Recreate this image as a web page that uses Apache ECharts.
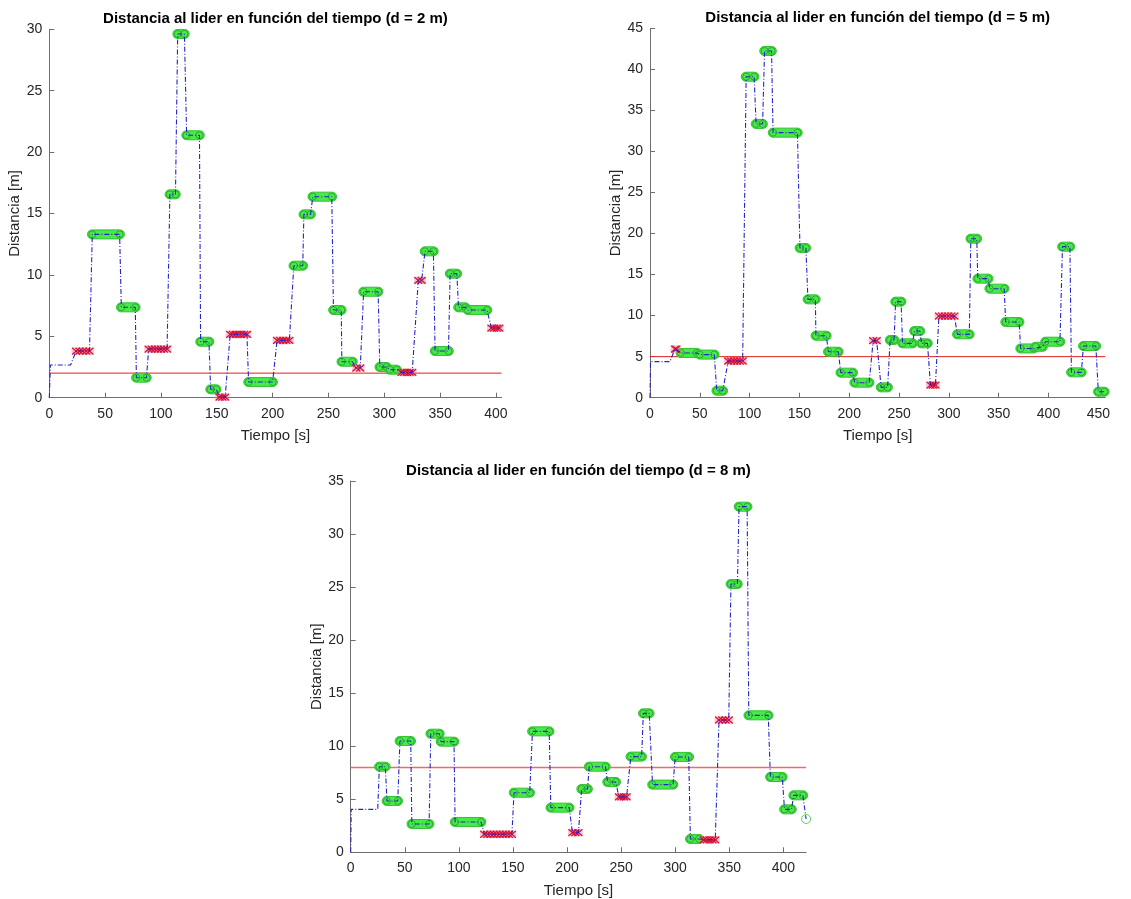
<!DOCTYPE html>
<html><head><meta charset="utf-8">
<script src="https://cdn.jsdelivr.net/npm/echarts@6/dist/echarts.min.js"></script>
<style>html,body{margin:0;padding:0;background:#fff}#c{width:1131px;height:899px}</style>
</head><body><div id="c"></div>
<script>
// ---------- Chart 1 (d = 2 m) ----------
const c1Title = 'Distancia al lider en función del tiempo (d = 2 m)';
const c1Ref = 2;
const c1XMax = 405;
const c1YMax = 30;
const c1XTicks = [0, 50, 100, 150, 200, 250, 300, 350, 400];
const c1Start = [0, 1, 24, 38.5, 64.5, 78, 89, 108, 115, 123, 135.5, 144.5, 152.5, 162, 178.5, 204, 219, 228, 236, 254.5, 262, 275, 281.5, 296, 305, 315.5, 330.5, 336.5, 345.5, 359, 366.5, 375, 396];
const c1End   = [0, 19, 36, 63, 77, 87, 105.5, 113, 121, 134.5, 143, 149.5, 157.5, 177, 200, 215, 227, 234, 253, 261.5, 271.5, 278.5, 294.5, 302, 311, 325, 333.5, 344, 357.5, 365, 372.5, 392, 403];
const c1Value = [0, 2.66, 3.80, 13.30, 7.36, 1.63, 3.96, 16.56, 29.62, 21.37, 4.56, 0.68, 0.05, 5.16, 1.28, 4.67, 10.75, 14.93, 16.37, 7.14, 2.93, 2.42, 8.63, 2.50, 2.28, 2.06, 9.56, 11.92, 3.80, 10.10, 7.36, 7.14, 5.67];
const c1Kind  = ['N','N','R','G','G','G','R','G','G','G','G','G','R','R','G','R','G','G','G','G','G','R','G','G','G','R','R','G','G','G','G','G','R'];

// ---------- Chart 2 (d = 5 m) ----------
const c2Title = 'Distancia al lider en función del tiempo (d = 5 m)';
const c2Ref = 5;
const c2XMax = 457;
const c2YMax = 45;
const c2XTicks = [0, 50, 100, 150, 200, 250, 300, 350, 400, 450];
const c2Start = [0, 0.5, 25, 31, 50, 67, 78.5, 96.5, 106.5, 115, 123.5, 150.5, 158.5, 166.5, 179, 191.5, 205.5, 224, 232, 241, 246.5, 253.5, 265.5, 272.5, 281.5, 290, 308.5, 322, 329, 341, 357, 372, 387, 397, 414, 423, 435, 450];
const c2End   = [0, 20, 26.5, 47, 64.5, 73, 93, 104.5, 113, 122, 148, 156.5, 166, 177, 189, 203.5, 220, 227.5, 238.5, 245, 252, 263.5, 271, 278.5, 286.5, 305.5, 320.5, 328, 339.5, 355.5, 370.5, 385, 394, 411.5, 421.5, 433, 447.5, 456];
const c2Value = [0, 4.39, 5.93, 5.45, 5.25, 0.85, 4.47, 39.1, 33.35, 42.24, 32.29, 18.24, 11.98, 7.55, 5.6, 3.05, 1.83, 6.95, 1.26, 7.03, 11.70, 6.62, 8.12, 6.62, 1.54, 9.95, 7.72, 19.37, 14.5, 13.28, 9.22, 6.0, 6.2, 6.82, 18.4, 3.09, 6.3, 0.73];
const c2Kind  = ['N','N','R','G','G','G','R','G','G','G','G','G','G','G','G','G','G','R','G','G','G','G','G','G','R','R','G','G','G','G','G','G','G','G','G','G','G','G'];

// ---------- Chart 3 (d = 8 m) ----------
const c3Title = 'Distancia al lider en función del tiempo (d = 8 m)';
const c3Ref = 8;
const c3XMax = 421;
const c3YMax = 35;
const c3XTicks = [0, 50, 100, 150, 200, 250, 300, 350, 400];
const c3Start = [0, 0.5, 26.5, 33.5, 45.5, 56.5, 74, 83.5, 96.5, 123.5, 151, 168, 185, 205, 213.5, 220.5, 237.5, 248, 259, 270.5, 279, 300, 314, 326.5, 340.5, 351.5, 359, 368, 388, 401, 409.5, 421];
const c3End   = [0, 25, 32, 43.5, 55.5, 72.5, 82, 95.5, 120.5, 149, 165.5, 183.5, 202, 210.5, 219, 235.5, 245, 255, 269, 276, 298, 312.5, 322, 337, 349.5, 357.5, 366.5, 386, 399, 407.5, 418, 421];
const c3Value = [0, 4.05, 8.07, 4.84, 10.49, 2.67, 11.18, 10.43, 2.86, 1.70, 5.62, 11.40, 4.21, 1.85, 5.97, 8.07, 6.63, 5.22, 9.02, 13.10, 6.38, 8.99, 1.26, 1.18, 12.47, 25.29, 32.58, 12.91, 7.10, 4.05, 5.37, 3.14];
const c3Kind  = ['N','N','G','G','G','G','G','G','G','R','G','G','G','R','G','G','G','R','G','G','G','G','G','R','R','G','G','G','G','G','G','O'];

// ---------- helpers ----------
const FONT = 'Liberation Sans, Arial, Helvetica, sans-serif';
const TXT = '#262626';
const AX = '#6e6e6e';

function pill(params, api) {
  const a = api.coord([api.value(0), api.value(2)]);
  const b = api.coord([api.value(1), api.value(2)]);
  const R = 4.8, H = 9;
  return { type: 'group', children: [
    { type: 'rect', shape: { x: a[0] - R, y: a[1] - H / 2, width: b[0] - a[0] + 2 * R, height: H, r: H / 2 },
      style: { fill: '#48ea48', stroke: '#34c034', lineWidth: 1 } },
    { type: 'circle', shape: { cx: a[0], cy: a[1], r: 3.5 }, style: { fill: null, stroke: '#22a022', lineWidth: 0.8 } },
    { type: 'circle', shape: { cx: b[0], cy: b[1], r: 3.5 }, style: { fill: null, stroke: '#22a022', lineWidth: 0.8 } }
  ]};
}
function crosses(params, api) {
  const a = api.coord([api.value(0), api.value(2)]);
  const b = api.coord([api.value(1), api.value(2)]);
  const ch = [{ type: 'rect', shape: { x: a[0] - 4.5, y: a[1] - 3.8, width: b[0] - a[0] + 9, height: 7.6, r: 3 },
    style: { fill: 'rgba(240,120,140,0.4)' } }];
  const n = Math.max(1, Math.round((b[0] - a[0]) / 3));
  for (let i = 0; i <= n; i++) {
    const x = a[0] + (b[0] - a[0]) * i / n, y = a[1];
    ch.push({ type: 'line', shape: { x1: x - 4, y1: y - 3.4, x2: x + 4, y2: y + 3.4 }, style: { stroke: '#dc1034', lineWidth: 1.3 } });
    ch.push({ type: 'line', shape: { x1: x - 4, y1: y + 3.4, x2: x + 4, y2: y - 3.4 }, style: { stroke: '#dc1034', lineWidth: 1.3 } });
  }
  return { type: 'group', children: ch };
}

const charts = [
  { title: c1Title, ref: c1Ref, xMax: c1XMax, yMax: c1YMax, xTicks: c1XTicks, s: c1Start, e: c1End, v: c1Value, k: c1Kind,
    grid: { left: 49.3, top: 29.3, width: 452.2, height: 368.4 }, refColor: '#f01818', refW: 1 },
  { title: c2Title, ref: c2Ref, xMax: c2XMax, yMax: c2YMax, xTicks: c2XTicks, s: c2Start, e: c2End, v: c2Value, k: c2Kind,
    grid: { left: 650, top: 28.3, width: 455.3, height: 369.4 }, refColor: '#e02020', refW: 1 },
  { title: c3Title, ref: c3Ref, xMax: c3XMax, yMax: c3YMax, xTicks: c3XTicks, s: c3Start, e: c3End, v: c3Value, k: c3Kind,
    grid: { left: 350.7, top: 481, width: 455.4, height: 371.3 }, refColor: '#f06a6a', refW: 1.5 }
];

const option = { animation: false, backgroundColor: '#fff', title: [], grid: [], xAxis: [], yAxis: [], series: [] };

charts.forEach((c, i) => {
  option.title.push({ text: c.title, left: c.grid.left + c.grid.width / 2, top: c.grid.top - 18, textAlign: 'center', padding: 0,
    textStyle: { fontFamily: FONT, fontSize: 15, fontWeight: 'bold', color: '#000' } });
  option.grid.push(Object.assign({ containLabel: false, outerBoundsMode: 'none' }, c.grid));
  option.xAxis.push({ gridIndex: i, type: 'value', min: 0, max: c.xMax, interval: 50,
    name: 'Tiempo [s]', nameLocation: 'middle', nameGap: 31,
    nameTextStyle: { fontFamily: FONT, fontSize: 15, color: TXT },
    axisLine: { show: true, lineStyle: { color: AX, width: 1 } },
    axisTick: { show: true, inside: true, length: 5, lineStyle: { color: AX }, customValues: c.xTicks },
    axisLabel: { fontFamily: FONT, fontSize: 14, color: TXT, margin: 9, customValues: c.xTicks },
    splitLine: { show: false } });
  option.yAxis.push({ gridIndex: i, type: 'value', min: 0, max: c.yMax, interval: 5,
    name: 'Distancia [m]', nameLocation: 'middle', nameGap: 25, nameRotate: 90,
    nameTextStyle: { fontFamily: FONT, fontSize: 15, color: TXT },
    axisLine: { show: true, lineStyle: { color: AX, width: 1 } },
    axisTick: { show: true, inside: true, length: 5, lineStyle: { color: AX } },
    axisLabel: { fontFamily: FONT, fontSize: 14, color: TXT, margin: 7 },
    splitLine: { show: false } });

  const green = [], red = [], open = [], line = [];
  c.s.forEach((st, j) => {
    const kind = c.k[j];
    if (kind === 'G') green.push([st, c.e[j], c.v[j]]);
    if (kind === 'R') red.push([st, c.e[j], c.v[j]]);
    if (kind === 'O') open.push([st, c.v[j]]);
    line.push([st, c.v[j]]);
    if (c.e[j] !== st) line.push([c.e[j], c.v[j]]);
  });

  option.series.push({ type: 'line', xAxisIndex: i, yAxisIndex: i, data: [[0, c.ref], [c.xMax, c.ref]],
    symbol: 'none', lineStyle: { color: c.refColor, width: c.refW }, z: 1, silent: true });
  option.series.push({ type: 'custom', xAxisIndex: i, yAxisIndex: i, data: green, renderItem: pill,
    encode: { x: [0, 1], y: 2 }, z: 2, silent: true });
  option.series.push({ type: 'custom', xAxisIndex: i, yAxisIndex: i, data: red, renderItem: crosses,
    encode: { x: [0, 1], y: 2 }, z: 3, silent: true });
  option.series.push({ type: 'line', xAxisIndex: i, yAxisIndex: i, data: line, symbol: 'none', clip: false,
    lineStyle: { color: '#2424cc', width: 1.1, type: [5, 2, 1, 2] }, z: 4, silent: true });
  if (open.length) option.series.push({ type: 'scatter', xAxisIndex: i, yAxisIndex: i, data: open, symbol: 'circle',
    symbolSize: 9, clip: false, itemStyle: { color: 'rgba(0,0,0,0)', borderColor: '#33cc33', borderWidth: 1 }, z: 5, silent: true });
});

const chart = echarts.init(document.getElementById('c'), null, { renderer: 'canvas' });
chart.setOption(option);
</script></body></html>
